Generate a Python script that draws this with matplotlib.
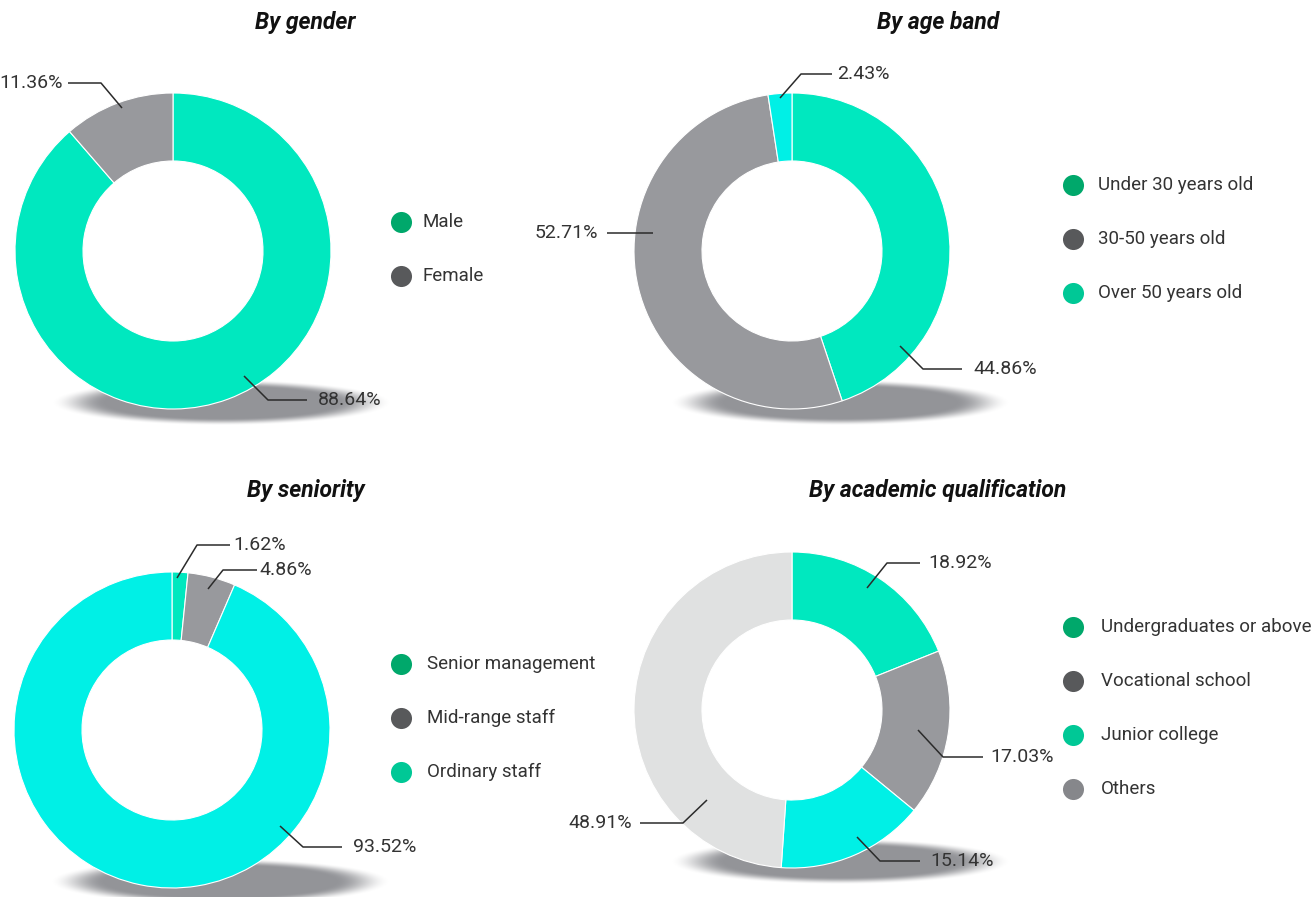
import numpy as np
import matplotlib
matplotlib.use("Agg")
import matplotlib.pyplot as plt

W, H = 1313, 897

# ---------------- data ----------------
titles = ["By gender", "By age band", "By seniority", "By academic qualification"]

gender_labels = ["Male", "Female"]
gender_values = [88.64, 11.36]

age_labels = ["Under 30 years old", "30-50 years old", "Over 50 years old"]
age_values = [44.86, 52.71, 2.43]

seniority_labels = ["Senior management", "Mid-range staff", "Ordinary staff"]
seniority_values = [1.62, 4.86, 93.52]

edu_labels = ["Undergraduates or above", "Vocational school", "Junior college", "Others"]
edu_values = [18.92, 17.03, 15.14, 48.91]

# ---------------- styles ----------------
wedge_colors = {
    0: ["#00E8BF", "#98999D"],
    1: ["#00E8BF", "#98999D", "#00F0E6"],
    2: ["#00E8BF", "#98999D", "#00F0E6"],
    3: ["#00E8BF", "#98999D", "#00F0E6", "#E0E1E1"],
}
legend_colors = ["#00A86B", "#58595B", "#00C896", "#86878B"]

# layout (image pixel coordinates, y downward)
centers = [(173, 251), (792, 251), (172, 730), (792, 710)]
R_OUT = 158
RING = 68
title_pos = [(305, 22), (938, 22), (306, 490), (938, 490)]
legend_pos = [(401, 222, 21), (1073, 185, 25), (401, 664, 26), (1073, 627, 28)]
legend_step = 54

# leader lines: (anchor dx,dy), (elbow dx,dy), (end dx,dy), text dx   relative to center
leaders = [
    [((71, 125), (95, 149), (134, 149), 145),
     ((-51, -143), (-72, -168), (-105, -168), -110)],
    [((108, 95), (131, 118), (170, 118), 181),
     ((-139, -18), (-139, -18), (-185, -18), -194),
     ((-12, -153), (9, -177), (40, -177), 45)],
    [((5, -152), (25, -185), (58, -185), 61),
     ((36, -141), (51, -160), (85, -160), 87),
     ((108, 96), (131, 117), (170, 117), 181)],
    [((75, -122), (95, -147), (128, -147), 136),
     ((126, 20), (151, 47), (191, 47), 198),
     ((65, 127), (88, 151), (128, 151), 138),
     ((-85, 90), (-109, 113), (-152, 113), -160)],
]

FONT = ["Roboto", "DejaVu Sans"]
plt.rcParams["font.family"] = FONT

fig = plt.figure(figsize=(W / 100, H / 100), dpi=100)
ax = fig.add_axes([0, 0, 1, 1])


def fy(y):
    return H - y


# ---------------- shadows ----------------
Y, X = np.mgrid[0:H, 0:W]
alpha = np.zeros((H, W))
for (cx, cy) in centers:
    scx, scy = cx + 48, cy + 151
    d = np.sqrt(((X - scx) / 170.0) ** 2 + ((Y - scy) / 23.0) ** 2)
    t = np.clip((1.0 - d) / 0.32, 0, 1)
    a = t * t * (3 - 2 * t)
    alpha = np.maximum(alpha, a)
img = np.zeros((H, W, 4))
img[..., 0] = 0x93 / 255
img[..., 1] = 0x94 / 255
img[..., 2] = 0x98 / 255
img[..., 3] = alpha
ax.imshow(img, extent=(0, W, 0, H), origin="upper", zorder=0, interpolation="bilinear")

# ---------------- donuts ----------------
all_values = [gender_values, age_values, seniority_values, edu_values]
all_labels = [gender_labels, age_labels, seniority_labels, edu_labels]

for i, vals in enumerate(all_values):
    cx, cy = centers[i]
    ax.pie(vals, radius=R_OUT, center=(cx, fy(cy)), startangle=90, counterclock=False,
           colors=wedge_colors[i],
           wedgeprops=dict(width=RING, edgecolor="white", linewidth=0.8),
           frame=True)
    # title
    tx, ty = title_pos[i]
    ax.text(tx, fy(ty), titles[i], ha="center", va="center", fontsize=16.5,
            fontweight="bold", fontstyle="italic", color="#111111")
    # labels with leader lines
    for v, (anc, elb, end, txd) in zip(vals, leaders[i]):
        xs = [cx + anc[0], cx + elb[0], cx + end[0]]
        ys = [fy(cy + anc[1]), fy(cy + elb[1]), fy(cy + end[1])]
        ax.plot(xs, ys, color="#2B2B2B", lw=1.1, zorder=5, solid_capstyle="butt")
        ax.text(cx + txd, fy(cy + end[1]), f"{v:.2f}%", ha="left" if txd > 0 else "right",
                va="center", fontsize=14, fontweight="normal", color="#333333", zorder=6)
    # legend
    lx, ly, tdx = legend_pos[i]
    for k, lab in enumerate(all_labels[i]):
        yy = ly + k * legend_step
        ax.scatter([lx], [fy(yy)], s=230, color=legend_colors[k], zorder=6, linewidths=0)
        ax.text(lx + tdx, fy(yy), lab, ha="left", va="center", fontsize=13.5,
                fontweight="normal", color="#333333")

ax.set_xlim(0, W)
ax.set_ylim(0, H)
ax.set_aspect("auto")
ax.axis("off")
fig.savefig("out.png", dpi=100)
